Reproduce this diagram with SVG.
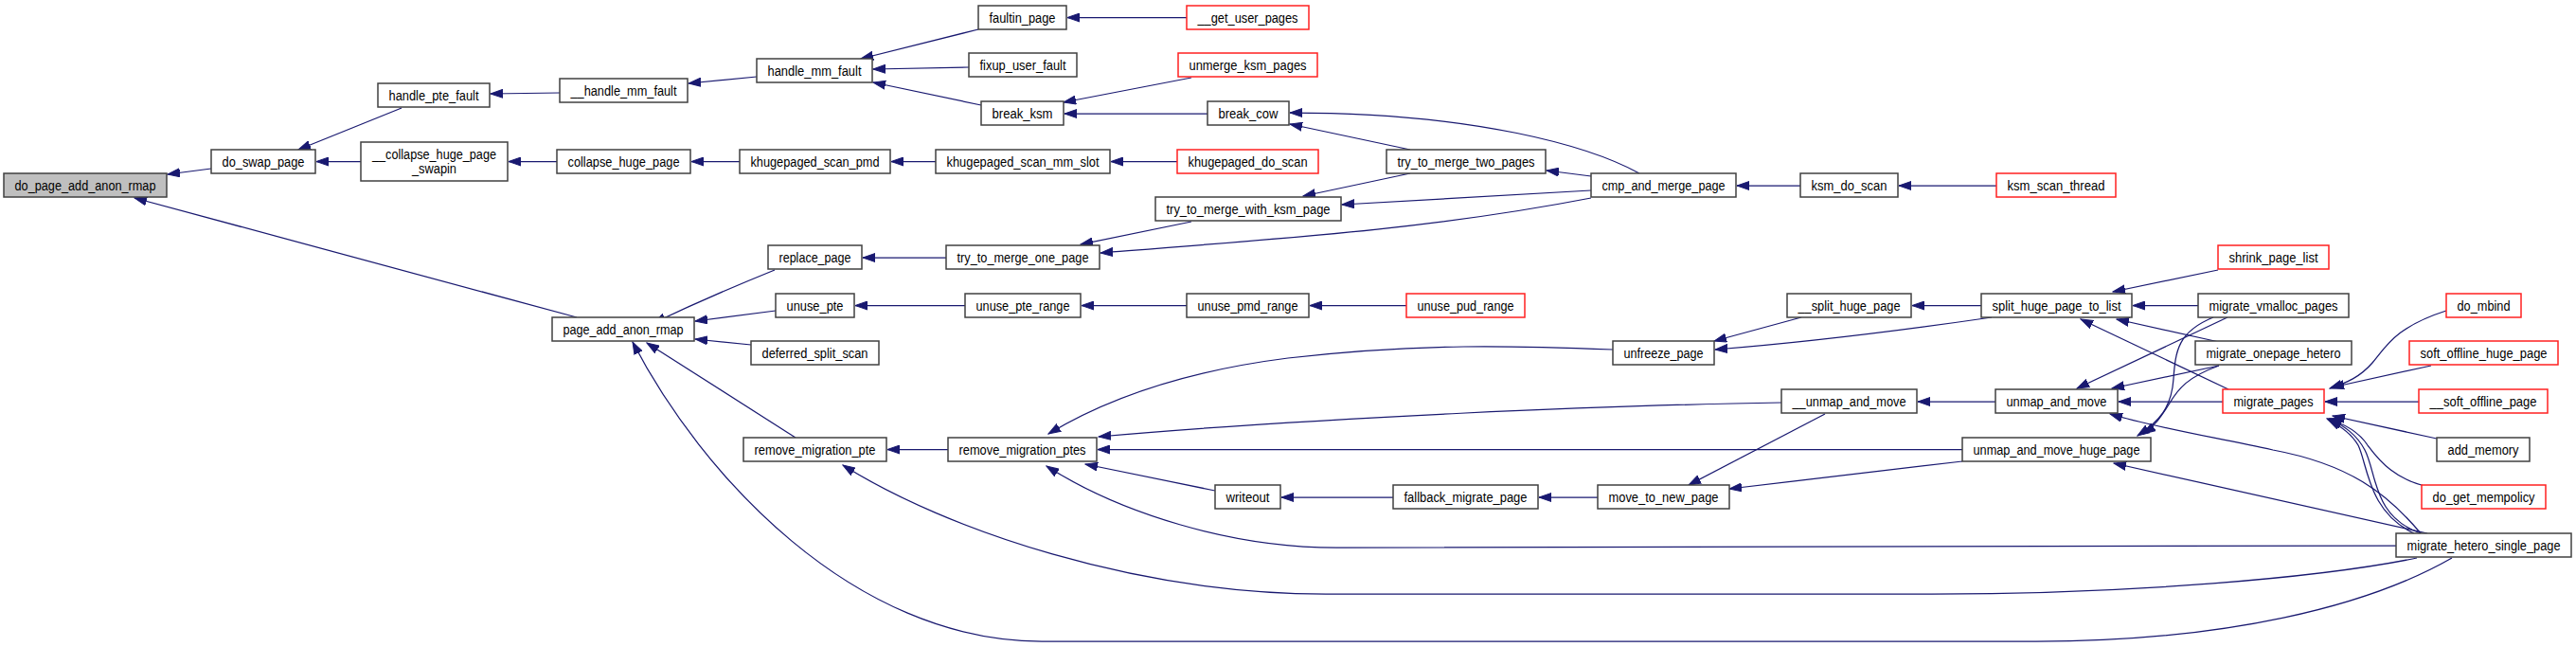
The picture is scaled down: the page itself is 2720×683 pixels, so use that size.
<svg xmlns="http://www.w3.org/2000/svg" width="2720" height="683" viewBox="0 0 2720 683">
<style>
.n rect{fill:#ffffff;stroke:#404040;stroke-width:1.5}
.n.red rect{stroke:#ff2020}
.n.root rect{fill:#bfbfbf}
.n text{font-family:"Liberation Sans",Arial,Helvetica,sans-serif;font-size:14px;fill:#000;text-anchor:middle}
#edges path{fill:none;stroke:#191970;stroke-width:1.25;marker-end:url(#ah)}
</style>
<defs>
<marker id="ah" markerWidth="14" markerHeight="10" refX="13" refY="5" orient="auto" markerUnits="userSpaceOnUse">
<path d="M0,0.5 L13,5 L0,9.5 z" fill="#191970" stroke="#191970" stroke-width="1"/>
</marker>
</defs>
<rect width="2720" height="683" fill="#ffffff"/>
<g id="edges">
<path d="M223,178 L177,184"/>
<path d="M609,335 L142,209"/>
<path d="M424,114 L315,158"/>
<path d="M381,170.5 L334,170.5"/>
<path d="M591,98 L518,99"/>
<path d="M588,170.5 L537,170.5"/>
<path d="M799,81 L727,88"/>
<path d="M1033,31 L909,62"/>
<path d="M1023,71 L922,73"/>
<path d="M1036,111 L922,87"/>
<path d="M1253,18.5 L1127,18.5"/>
<path d="M1258,82 L1123,108"/>
<path d="M1275,120 L1124,120"/>
<path d="M781,170.5 L730,170.5"/>
<path d="M988,170.5 L941,170.5"/>
<path d="M1243,170.5 L1173,170.5"/>
<path d="M818,285 C776,302 730,322 690,341"/>
<path d="M819,328 L734,339"/>
<path d="M793,364 L734,358"/>
<path d="M840,462 L683,362"/>
<path d="M2589,589 C2500,640 2350,677 2150,677 L1100,677 C900,677 740,500 668,361"/>
<path d="M999,272 L911,272"/>
<path d="M1258,234 L1141,258"/>
<path d="M1680,209 C1520,240 1380,250 1162,267"/>
<path d="M1019,322.5 L903,322.5"/>
<path d="M1253,322.5 L1142,322.5"/>
<path d="M1485,322.5 L1383,322.5"/>
<path d="M1731,183 C1680,155 1560,119 1362,119"/>
<path d="M1489,158 L1362,131"/>
<path d="M1489,183 L1376,207"/>
<path d="M1680,186 L1633,180"/>
<path d="M1680,201 L1417,216"/>
<path d="M1901,196 L1834,196"/>
<path d="M2108,196 L2005,196"/>
<path d="M1001,474.5 L937,474.5"/>
<path d="M2552,589 C2450,610 2250,627 2040,627 L1400,627 C1200,627 1000,560 890,491"/>
<path d="M1703,369 C1600,365 1500,362 1360,378 C1250,392 1170,420 1107,458"/>
<path d="M1881,425 C1700,428 1400,440 1160,461"/>
<path d="M2072,474.5 L1159,474.5"/>
<path d="M1283,518 L1146,490"/>
<path d="M2530,576 L1420,578 C1300,580 1180,540 1105,492"/>
<path d="M1471,525 L1353,525"/>
<path d="M1687,525 L1625,525"/>
<path d="M1927,437 L1783,512"/>
<path d="M2072,487 L1826,516"/>
<path d="M1902,335 L1810,360"/>
<path d="M2103,335 C2000,350 1900,362 1811,369"/>
<path d="M2092,322.5 L2019,322.5"/>
<path d="M2107,424 L2025,424"/>
<path d="M2342,285 L2231,308"/>
<path d="M2321,322.5 L2252,322.5"/>
<path d="M2353,411 L2197,337"/>
<path d="M2343,361 L2235,337"/>
<path d="M2352,335 L2193,410"/>
<path d="M2337,335 C2300,350 2297,370 2295,400 C2293,430 2280,445 2257,460"/>
<path d="M2343,386 L2230,410"/>
<path d="M2343,386 C2310,398 2300,410 2290,427 C2282,440 2275,450 2263,458"/>
<path d="M2347,424 L2237,424"/>
<path d="M2556,563 C2520,520 2480,490 2400,475 C2330,460 2270,450 2228,437"/>
<path d="M2563,563 L2232,489"/>
<path d="M2556,563 C2505,545 2510,500 2497,475 C2488,458 2475,450 2460,442"/>
<path d="M2549,563 C2500,540 2500,490 2490,470 C2483,458 2472,450 2458,443"/>
<path d="M2583,328 C2530,345 2520,365 2505,383 C2492,398 2478,404 2460,410"/>
<path d="M2567,386 L2462,409"/>
<path d="M2554,424 L2455,424"/>
<path d="M2573,463 L2463,439"/>
<path d="M2560,513 C2530,505 2515,490 2500,470 C2490,455 2475,447 2457,442"/>
</g>
<g id="do_page_add_anon_rmap" class="n root"><rect x="4" y="183" width="172" height="25"/><text x="90" y="200.5" textLength="149" lengthAdjust="spacingAndGlyphs">do_page_add_anon_rmap</text></g>
<g id="do_swap_page" class="n"><rect x="223" y="158" width="110" height="25"/><text x="278" y="175.5" textLength="87" lengthAdjust="spacingAndGlyphs">do_swap_page</text></g>
<g id="handle_pte_fault" class="n"><rect x="399" y="88" width="118" height="25"/><text x="458" y="105.5" textLength="95" lengthAdjust="spacingAndGlyphs">handle_pte_fault</text></g>
<g id="__collapse_huge_page_swapin" class="n"><rect x="381" y="150" width="155" height="41"/><text x="458.5" y="167.5" textLength="131" lengthAdjust="spacingAndGlyphs">__collapse_huge_page</text><text x="458.5" y="182.5" textLength="47" lengthAdjust="spacingAndGlyphs">_swapin</text></g>
<g id="__handle_mm_fault" class="n"><rect x="591" y="83" width="135" height="25"/><text x="658.5" y="100.5" textLength="112" lengthAdjust="spacingAndGlyphs">__handle_mm_fault</text></g>
<g id="collapse_huge_page" class="n"><rect x="588" y="158" width="141" height="25"/><text x="658.5" y="175.5" textLength="118" lengthAdjust="spacingAndGlyphs">collapse_huge_page</text></g>
<g id="page_add_anon_rmap" class="n"><rect x="583" y="335" width="150" height="25"/><text x="658" y="352.5" textLength="127" lengthAdjust="spacingAndGlyphs">page_add_anon_rmap</text></g>
<g id="handle_mm_fault" class="n"><rect x="799" y="62" width="122" height="25"/><text x="860" y="79.5" textLength="99" lengthAdjust="spacingAndGlyphs">handle_mm_fault</text></g>
<g id="khugepaged_scan_pmd" class="n"><rect x="781" y="158" width="159" height="25"/><text x="860.5" y="175.5" textLength="136" lengthAdjust="spacingAndGlyphs">khugepaged_scan_pmd</text></g>
<g id="replace_page" class="n"><rect x="811" y="259" width="99" height="25"/><text x="860.5" y="276.5" textLength="76" lengthAdjust="spacingAndGlyphs">replace_page</text></g>
<g id="unuse_pte" class="n"><rect x="819" y="310" width="83" height="25"/><text x="860.5" y="327.5" textLength="60" lengthAdjust="spacingAndGlyphs">unuse_pte</text></g>
<g id="deferred_split_scan" class="n"><rect x="793" y="360" width="135" height="25"/><text x="860.5" y="377.5" textLength="112" lengthAdjust="spacingAndGlyphs">deferred_split_scan</text></g>
<g id="remove_migration_pte" class="n"><rect x="785" y="462" width="151" height="25"/><text x="860.5" y="479.5" textLength="128" lengthAdjust="spacingAndGlyphs">remove_migration_pte</text></g>
<g id="faultin_page" class="n"><rect x="1033" y="6" width="93" height="25"/><text x="1079.5" y="23.5" textLength="70" lengthAdjust="spacingAndGlyphs">faultin_page</text></g>
<g id="fixup_user_fault" class="n"><rect x="1023" y="56" width="114" height="25"/><text x="1080" y="73.5" textLength="91" lengthAdjust="spacingAndGlyphs">fixup_user_fault</text></g>
<g id="break_ksm" class="n"><rect x="1036" y="107" width="87" height="25"/><text x="1079.5" y="124.5" textLength="64" lengthAdjust="spacingAndGlyphs">break_ksm</text></g>
<g id="khugepaged_scan_mm_slot" class="n"><rect x="988" y="158" width="184" height="25"/><text x="1080" y="175.5" textLength="161" lengthAdjust="spacingAndGlyphs">khugepaged_scan_mm_slot</text></g>
<g id="try_to_merge_one_page" class="n"><rect x="999" y="259" width="162" height="25"/><text x="1080" y="276.5" textLength="139" lengthAdjust="spacingAndGlyphs">try_to_merge_one_page</text></g>
<g id="unuse_pte_range" class="n"><rect x="1019" y="310" width="122" height="25"/><text x="1080" y="327.5" textLength="99" lengthAdjust="spacingAndGlyphs">unuse_pte_range</text></g>
<g id="remove_migration_ptes" class="n"><rect x="1001" y="462" width="157" height="25"/><text x="1079.5" y="479.5" textLength="134" lengthAdjust="spacingAndGlyphs">remove_migration_ptes</text></g>
<g id="__get_user_pages" class="n red"><rect x="1253" y="6" width="129" height="25"/><text x="1317.5" y="23.5" textLength="106" lengthAdjust="spacingAndGlyphs">__get_user_pages</text></g>
<g id="unmerge_ksm_pages" class="n red"><rect x="1244" y="56" width="147" height="25"/><text x="1317.5" y="73.5" textLength="124" lengthAdjust="spacingAndGlyphs">unmerge_ksm_pages</text></g>
<g id="break_cow" class="n"><rect x="1275" y="107" width="86" height="25"/><text x="1318" y="124.5" textLength="63" lengthAdjust="spacingAndGlyphs">break_cow</text></g>
<g id="khugepaged_do_scan" class="n red"><rect x="1243" y="158" width="149" height="25"/><text x="1317.5" y="175.5" textLength="126" lengthAdjust="spacingAndGlyphs">khugepaged_do_scan</text></g>
<g id="try_to_merge_with_ksm_page" class="n"><rect x="1220" y="208" width="196" height="25"/><text x="1318" y="225.5" textLength="173" lengthAdjust="spacingAndGlyphs">try_to_merge_with_ksm_page</text></g>
<g id="unuse_pmd_range" class="n"><rect x="1253" y="310" width="129" height="25"/><text x="1317.5" y="327.5" textLength="106" lengthAdjust="spacingAndGlyphs">unuse_pmd_range</text></g>
<g id="writeout" class="n"><rect x="1283" y="512" width="69" height="25"/><text x="1317.5" y="529.5" textLength="46" lengthAdjust="spacingAndGlyphs">writeout</text></g>
<g id="try_to_merge_two_pages" class="n"><rect x="1464" y="158" width="168" height="25"/><text x="1548" y="175.5" textLength="145" lengthAdjust="spacingAndGlyphs">try_to_merge_two_pages</text></g>
<g id="unuse_pud_range" class="n red"><rect x="1485" y="310" width="125" height="25"/><text x="1547.5" y="327.5" textLength="102" lengthAdjust="spacingAndGlyphs">unuse_pud_range</text></g>
<g id="fallback_migrate_page" class="n"><rect x="1471" y="512" width="153" height="25"/><text x="1547.5" y="529.5" textLength="130" lengthAdjust="spacingAndGlyphs">fallback_migrate_page</text></g>
<g id="cmp_and_merge_page" class="n"><rect x="1680" y="183" width="153" height="25"/><text x="1756.5" y="200.5" textLength="130" lengthAdjust="spacingAndGlyphs">cmp_and_merge_page</text></g>
<g id="unfreeze_page" class="n"><rect x="1703" y="360" width="107" height="25"/><text x="1756.5" y="377.5" textLength="84" lengthAdjust="spacingAndGlyphs">unfreeze_page</text></g>
<g id="move_to_new_page" class="n"><rect x="1687" y="512" width="139" height="25"/><text x="1756.5" y="529.5" textLength="116" lengthAdjust="spacingAndGlyphs">move_to_new_page</text></g>
<g id="ksm_do_scan" class="n"><rect x="1901" y="183" width="103" height="25"/><text x="1952.5" y="200.5" textLength="80" lengthAdjust="spacingAndGlyphs">ksm_do_scan</text></g>
<g id="__split_huge_page" class="n"><rect x="1887" y="310" width="131" height="25"/><text x="1952.5" y="327.5" textLength="108" lengthAdjust="spacingAndGlyphs">__split_huge_page</text></g>
<g id="__unmap_and_move" class="n"><rect x="1881" y="411" width="143" height="25"/><text x="1952.5" y="428.5" textLength="120" lengthAdjust="spacingAndGlyphs">__unmap_and_move</text></g>
<g id="ksm_scan_thread" class="n red"><rect x="2108" y="183" width="126" height="25"/><text x="2171" y="200.5" textLength="103" lengthAdjust="spacingAndGlyphs">ksm_scan_thread</text></g>
<g id="split_huge_page_to_list" class="n"><rect x="2092" y="310" width="159" height="25"/><text x="2171.5" y="327.5" textLength="136" lengthAdjust="spacingAndGlyphs">split_huge_page_to_list</text></g>
<g id="unmap_and_move" class="n"><rect x="2107" y="411" width="129" height="25"/><text x="2171.5" y="428.5" textLength="106" lengthAdjust="spacingAndGlyphs">unmap_and_move</text></g>
<g id="unmap_and_move_huge_page" class="n"><rect x="2072" y="462" width="199" height="25"/><text x="2171.5" y="479.5" textLength="176" lengthAdjust="spacingAndGlyphs">unmap_and_move_huge_page</text></g>
<g id="shrink_page_list" class="n red"><rect x="2342" y="259" width="117" height="25"/><text x="2400.5" y="276.5" textLength="94" lengthAdjust="spacingAndGlyphs">shrink_page_list</text></g>
<g id="migrate_vmalloc_pages" class="n"><rect x="2321" y="310" width="159" height="25"/><text x="2400.5" y="327.5" textLength="136" lengthAdjust="spacingAndGlyphs">migrate_vmalloc_pages</text></g>
<g id="migrate_onepage_hetero" class="n"><rect x="2318" y="360" width="165" height="25"/><text x="2400.5" y="377.5" textLength="142" lengthAdjust="spacingAndGlyphs">migrate_onepage_hetero</text></g>
<g id="migrate_pages" class="n red"><rect x="2347" y="411" width="107" height="25"/><text x="2400.5" y="428.5" textLength="84" lengthAdjust="spacingAndGlyphs">migrate_pages</text></g>
<g id="do_mbind" class="n red"><rect x="2583" y="310" width="79" height="25"/><text x="2622.5" y="327.5" textLength="56" lengthAdjust="spacingAndGlyphs">do_mbind</text></g>
<g id="soft_offline_huge_page" class="n red"><rect x="2544" y="360" width="157" height="25"/><text x="2622.5" y="377.5" textLength="134" lengthAdjust="spacingAndGlyphs">soft_offline_huge_page</text></g>
<g id="__soft_offline_page" class="n red"><rect x="2554" y="411" width="136" height="25"/><text x="2622" y="428.5" textLength="113" lengthAdjust="spacingAndGlyphs">__soft_offline_page</text></g>
<g id="add_memory" class="n"><rect x="2573" y="462" width="98" height="25"/><text x="2622" y="479.5" textLength="75" lengthAdjust="spacingAndGlyphs">add_memory</text></g>
<g id="do_get_mempolicy" class="n red"><rect x="2557" y="512" width="131" height="25"/><text x="2622.5" y="529.5" textLength="108" lengthAdjust="spacingAndGlyphs">do_get_mempolicy</text></g>
<g id="migrate_hetero_single_page" class="n"><rect x="2530" y="563" width="185" height="25"/><text x="2622.5" y="580.5" textLength="162" lengthAdjust="spacingAndGlyphs">migrate_hetero_single_page</text></g>
</svg>
